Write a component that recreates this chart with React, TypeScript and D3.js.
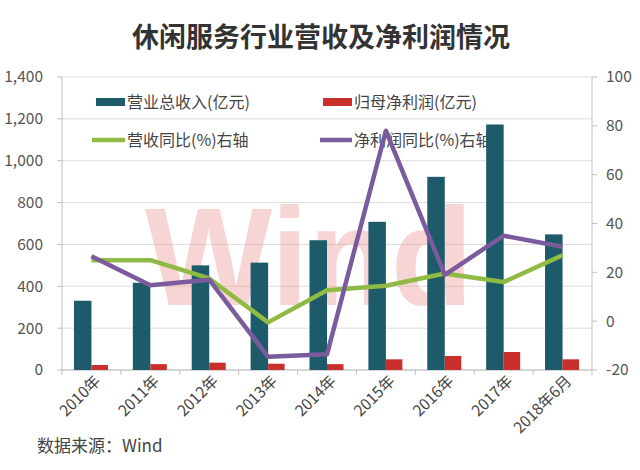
import React from "react";
import * as d3 from "d3";

const categories = ["2010年", "2011年", "2012年", "2013年", "2014年", "2015年", "2016年", "2017年", "2018年6月"];
const revenue = [331, 417, 500, 513, 620, 708, 923, 1173, 648];
const netProfit = [24, 28, 35, 30, 28, 51, 67, 86, 51];
const revenueYoY = [25, 25, 17.5, -0.5, 12.7, 14.5, 19.5, 16, 27];
const profitYoY = [26.6, 14.7, 17, -14.6, -13.6, 78, 19, 35, 30.5];
const leftTicks = [0, 200, 400, 600, 800, 1000, 1200, 1400];
const rightTicks = [-20, 0, 20, 40, 60, 80, 100];

const W = 640;
const H = 470;
const plotLeft = 62;
const plotRight = 592;
const plotTop = 77;
const plotBottom = 370;

const C_TEAL = "#1d5b6a";
const C_RED = "#c9302c";
const C_GREEN = "#8fbb44";
const C_PURPLE = "#7a5c9e";
const FONT = "'Noto Sans CJK SC', 'Noto Sans', sans-serif";

export default function App() {
  const x = d3.scaleBand<string>().domain(categories).range([plotLeft, plotRight]).paddingInner(0).paddingOuter(0);
  const yL = d3.scaleLinear().domain([0, 1400]).range([plotBottom, plotTop]);
  const yR = d3.scaleLinear().domain([-20, 100]).range([plotBottom, plotTop]);
  const bw = 17.5;
  const cx = (c: string) => (x(c) as number) + x.bandwidth() / 2;

  const line = d3
    .line<number>()
    .x((_, i) => cx(categories[i]))
    .y((v) => yR(v));

  const fmt = d3.format(",");

  return (
    <svg
      width={W}
      height={H}
      style={{ position: "absolute", left: 0, top: 0, background: "#fff" }}
      fontFamily={FONT}
    >
      <rect x={0} y={0} width={W} height={H} fill="#fff" />
      <text x={321} y={47} textAnchor="middle" fontSize={27} fontWeight="bold" fill="#333">
        休闲服务行业营收及净利润情况
      </text>

      {/* gridlines */}
      {leftTicks.map((t) => (
        <line key={"g" + t} x1={plotLeft} x2={plotRight} y1={yL(t)} y2={yL(t)} stroke="#dcdcdc" strokeWidth={1} />
      ))}

      {/* watermark */}
      <text
        x={145}
        y={305}
        fontSize={140}
        fontWeight="bold"
        fontFamily="'Liberation Sans', Arial, sans-serif"
        fill="#e8837e"
        opacity={0.33}
        textLength={328}
        lengthAdjust="spacingAndGlyphs"
      >
        Wind
      </text>

      {/* legend (behind the marks, as in the reference) */}
      <g fontSize={16} fill="#444">
        <rect x={96} y={98} width={29} height={8} fill={C_TEAL} />
        <text x={127} y={102} dy="0.35em" fill="#444">营业总收入(亿元)</text>
        <rect x={323} y={98} width={29} height={8} fill={C_RED} />
        <text x={354} y={102} dy="0.35em" fill="#444">归母净利润(亿元)</text>
        <line x1={92} x2={125} y1={140} y2={140} stroke={C_GREEN} strokeWidth={4.5} />
        <text x={127} y={140} dy="0.35em" fill="#444">营收同比(%)右轴</text>
        <line x1={320} x2={352} y1={140} y2={140} stroke={C_PURPLE} strokeWidth={4.5} />
        <text x={354} y={140} dy="0.35em" fill="#444">净利润同比(%)右轴</text>
      </g>

      {/* axes */}
      <line x1={plotLeft} x2={plotLeft} y1={plotTop} y2={plotBottom} stroke="#bfbfbf" />
      <line x1={plotRight} x2={plotRight} y1={plotTop} y2={plotBottom} stroke="#bfbfbf" />
      <line x1={plotLeft} x2={plotRight} y1={plotBottom} y2={plotBottom} stroke="#bfbfbf" />
      {leftTicks.map((t) => (
        <g key={"l" + t}>
          <line x1={plotLeft - 5} x2={plotLeft} y1={yL(t)} y2={yL(t)} stroke="#bfbfbf" />
          <text x={43} y={yL(t)} dy="0.35em" textAnchor="end" fontSize={15.5} fill="#555">
            {fmt(t)}
          </text>
        </g>
      ))}
      {rightTicks.map((t) => (
        <g key={"r" + t}>
          <line x1={plotRight} x2={plotRight + 5} y1={yR(t)} y2={yR(t)} stroke="#bfbfbf" />
          <text x={606} y={yR(t)} dy="0.35em" textAnchor="start" fontSize={15.5} fill="#555">
            {t}
          </text>
        </g>
      ))}
      {categories.map((c, i) => (
        <line
          key={"xt" + i}
          x1={x(c) as number}
          x2={x(c) as number}
          y1={plotBottom}
          y2={plotBottom + 5}
          stroke="#bfbfbf"
        />
      ))}
      <line x1={plotRight} x2={plotRight} y1={plotBottom} y2={plotBottom + 5} stroke="#bfbfbf" />

      {/* bars */}
      {categories.map((c, i) => (
        <g key={"b" + i}>
          <rect x={cx(c) - bw} y={yL(revenue[i])} width={bw} height={plotBottom - yL(revenue[i])} fill={C_TEAL} />
          <rect x={cx(c)} y={yL(netProfit[i])} width={bw - 1} height={plotBottom - yL(netProfit[i])} fill={C_RED} />
        </g>
      ))}

      {/* lines */}
      <path d={line(revenueYoY) || ""} fill="none" stroke={C_GREEN} strokeWidth={4.5} strokeLinejoin="round" />
      <path d={line(profitYoY) || ""} fill="none" stroke={C_PURPLE} strokeWidth={4.5} strokeLinejoin="round" />

      {/* x labels */}
      {categories.map((c, i) => (
        <text
          key={"xl" + i}
          transform={`translate(${cx(c) + 10},${plotBottom + 12}) rotate(-45)`}
          textAnchor="end"
          fontSize={15.5}
          fill="#444"
        >
          {c}
        </text>
      ))}

      <text x={37} y={452} fontSize={17} fill="#444">
        数据来源：Wind
      </text>
    </svg>
  );
}
